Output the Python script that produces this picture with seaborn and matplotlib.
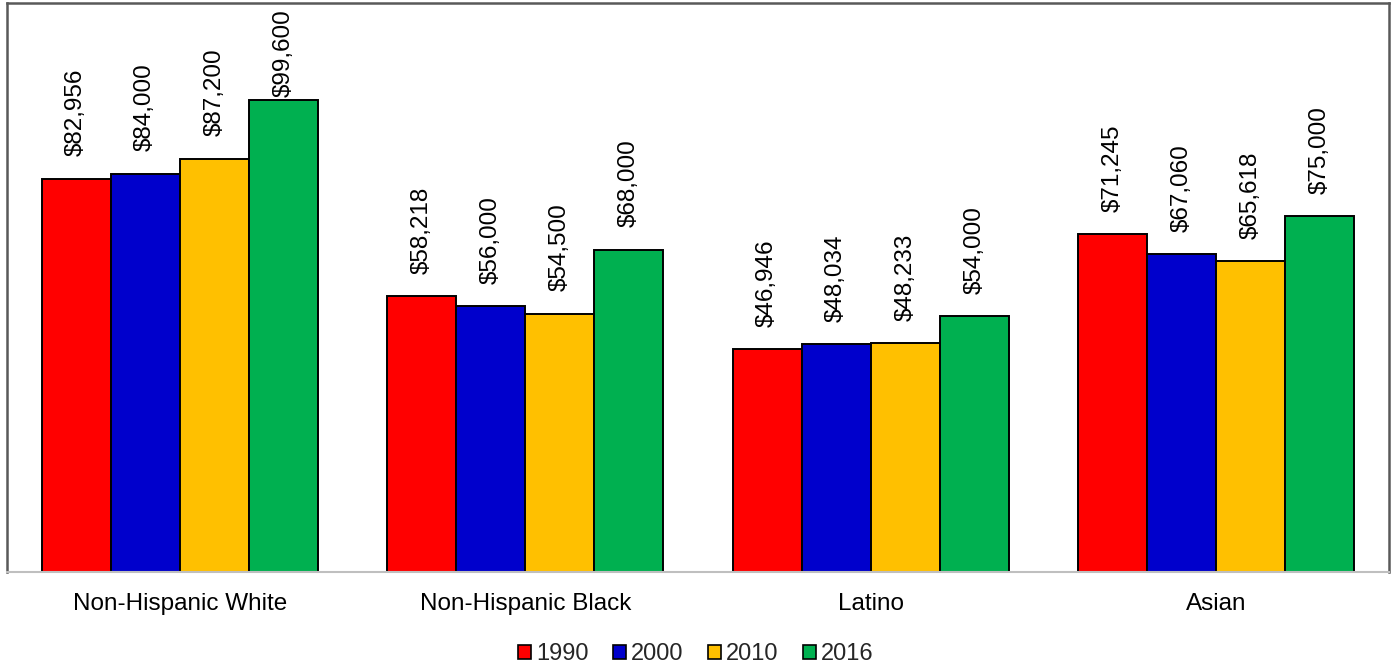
import matplotlib
matplotlib.use("Agg")
import matplotlib.pyplot as plt
from matplotlib.patches import Patch
import seaborn as sns
import pandas as pd

# Median household income by group and year
groups = ["Non-Hispanic White", "Non-Hispanic Black", "Latino", "Asian"]
years = ["1990", "2000", "2010", "2016"]
income_1990 = [82956, 58218, 46946, 71245]
income_2000 = [84000, 56000, 48034, 67060]
income_2010 = [87200, 54500, 48233, 65618]
income_2016 = [99600, 68000, 54000, 75000]
colors = ["#FF0000", "#0000CC", "#FFC000", "#00B050"]

series = [income_1990, income_2000, income_2010, income_2016]
rows = []
for yr, vals in zip(years, series):
    for g, v in zip(groups, vals):
        rows.append({"group": g, "year": yr, "income": v})
df = pd.DataFrame(rows)

sns.set_theme(style="white")
plt.rcParams["font.family"] = ["Liberation Sans", "DejaVu Sans"]

fig = plt.figure(figsize=(13.92, 6.65), dpi=100)
ax = fig.add_axes([7 / 1392, (665 - 572) / 665, (1389 - 7) / 1392, (572 - 3) / 665])

sns.barplot(data=df, x="group", y="income", hue="year", order=groups,
            hue_order=years, palette=colors, width=0.8, edgecolor="black",
            linewidth=1.4, saturation=1, legend=False, ax=ax)

ax.set_ylim(0, 120000)
ax.set_xlim(-0.5, 3.5)
ax.set_xlabel("")
ax.set_ylabel("")
ax.set_yticks([])
ax.tick_params(axis="x", length=0, pad=15, labelsize=17.5, colors="black")

for side in ["top", "left", "right"]:
    ax.spines[side].set_color("#595959")
    ax.spines[side].set_linewidth(1.8)
ax.spines["bottom"].set_color("#BFBFBF")
ax.spines["bottom"].set_linewidth(1.5)

pad_pt = 16
texts = []
for cont, vals in zip(ax.containers, series):
    labels = [f"${v:,.0f}" for v in vals]
    texts += ax.bar_label(cont, labels=labels, rotation=90, padding=pad_pt,
                          fontsize=17.5, color="black")

# Keep labels inside the plot frame
fig.canvas.draw()
ax_top = ax.get_window_extent().y1
px_per_pt = fig.dpi / 72.0
for t in texts:
    bb = t.get_window_extent()
    limit = ax_top - 6
    if bb.y1 > limit:
        dx, dy = t.xyann
        t.xyann = (dx, dy - (bb.y1 - limit) / px_per_pt)

handles = [Patch(facecolor=c, edgecolor="black", linewidth=1.2, label=y)
           for c, y in zip(colors, years)]
fig.legend(handles=handles, loc="center", bbox_to_anchor=(0.5, 0.016),
           ncol=4, frameon=False, fontsize=17, handlelength=0.55,
           handleheight=0.55, handletextpad=0.2, columnspacing=1.05)

fig.savefig("out.png", dpi=100)
